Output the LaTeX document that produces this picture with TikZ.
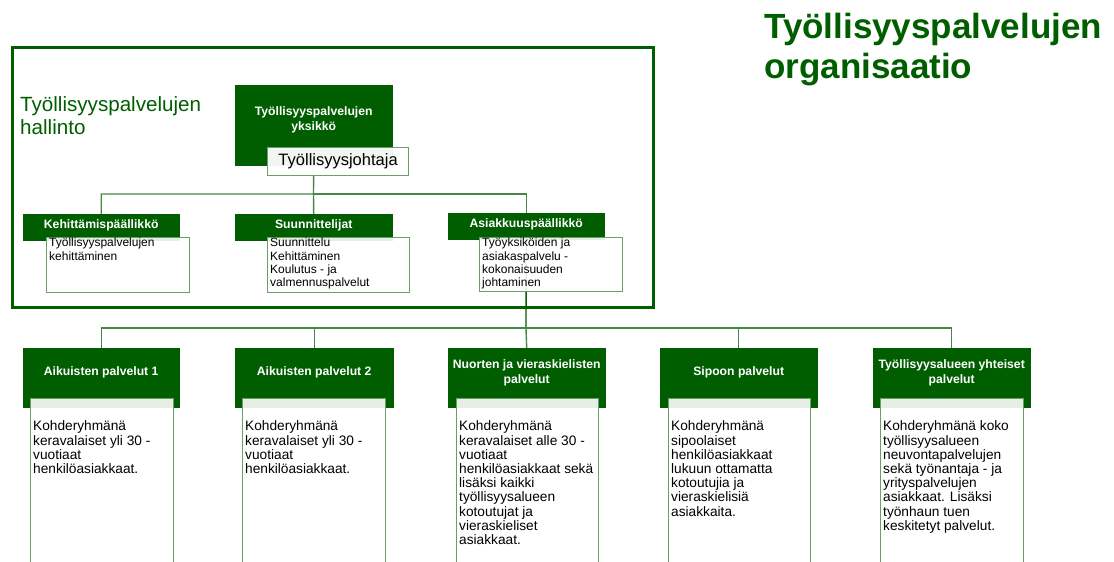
\documentclass[tikz,border=0pt]{standalone}
\usepackage{fontspec}
\setmainfont{Liberation Sans}
\usetikzlibrary{positioning}
\usetikzlibrary{backgrounds}

\definecolor{orggreen}{RGB}{0,94,0}
\definecolor{linegreen}{RGB}{70,135,70}
\definecolor{boxgreen}{RGB}{105,160,105}

\begin{document}
\begin{tikzpicture}[x=1pt,y=-1pt]
			\tikzset{head/.style = {fill=orggreen, draw=orggreen, anchor=north west, 
					inner sep = 0pt}}
			\tikzset{headtxt/.style = {text=white, align=center, inner sep=0pt, 
					font=\bfseries\fontsize{12.2}{14.8}\selectfont}}
			\tikzset{sub/.style = {draw=boxgreen, line width=1.2pt, fill=white, 
					fill opacity=0.9, anchor=north west, inner sep = 0pt}}
			\tikzset{subtxt/.style = {anchor=north west, align=left, inner sep=0pt, 
					text opacity=1, font=\fontsize{12}{13.3}\selectfont}}
			\tikzset{lowtxt/.style = {subtxt, font=\fontsize{13.7}{14.2}\selectfont}}
			\tikzset{edge/.style = {draw=linegreen, line width=1.4pt}}
			
			\clip (0,0) rectangle (1114,562);
			
			% titles
			\node[anchor=north west, align=left, inner sep=0pt, text=orggreen,
			font=\bfseries\fontsize{35}{40}\selectfont] (title) at (764,13)
			{Työllisyyspalvelujen\\organisaatio};
			\draw[orggreen, line width=3pt] (12,47) rectangle (653,307);
			\node[anchor=north west, align=left, inner sep=0pt, text=orggreen,
			font=\fontsize{20.6}{23}\selectfont] (hallinto) at (20,96)
			{Työllisyyspalvelujen\\hallinto};
			
			% administration
			\node[head, minimum width=157, minimum height=80,
			label={[headtxt, yshift=5pt]center:{Työllisyyspalvelujen\\yksikkö}}] 
			(unit) at (235,85) {};
			\node[sub, fill opacity=0.95, minimum width=141, minimum height=28, 
			text opacity=1, font=\fontsize{16.5}{18}\selectfont] (johtaja) at (267,147) 
			{Työllisyysjohtaja};
			
			\node[head, minimum width=156, minimum height=26,
			label={[headtxt, yshift=2pt]center:Kehittämispäällikkö}] (kh) at (23,214) {};
			\node[head, minimum width=157, minimum height=26,
			label={[headtxt, yshift=2pt]center:Suunnittelijat}] (sh) at (235,214) {};
			\node[head, minimum width=156, minimum height=26,
			label={[headtxt, yshift=2pt]center:Asiakkuuspäällikkö}] (ah) at (448,213) {};
			
			\node[sub, minimum width=143, minimum height=55,
			label={[subtxt, xshift=3pt, yshift=-1pt]north west:{Työllisyyspalvelujen\\kehittäminen}}] 
			(ks) at (46,237) {};
			\node[sub, minimum width=142, minimum height=55,
			label={[subtxt, xshift=3pt, yshift=-1pt]north west:{Suunnittelu\\Kehittäminen\\Koulutus - ja\\valmennuspalvelut}}] 
			(ss) at (267,237) {};
			\node[sub, minimum width=143, minimum height=54,
			label={[subtxt, xshift=3pt, yshift=-1pt]north west:{Työyksiköiden ja\\asiakaspalvelu -\\kokonaisuuden\\johtaminen}}] 
			(as) at (479,237) {};
			
			% services
			\node[head, minimum width=156, minimum height=59,
			label={[headtxt, yshift=5pt]center:Aikuisten palvelut 1}] (l1) at (23,348) {};
			\node[head, minimum width=158, minimum height=59,
			label={[headtxt, yshift=5pt]center:Aikuisten palvelut 2}] (l2) at (235,348) {};
			\node[head, minimum width=157, minimum height=59,
			label={[headtxt, yshift=5pt]center:{Nuorten ja vieraskielisten\\palvelut}}] (l3) at (448,348) {};
			\node[head, minimum width=157, minimum height=59,
			label={[headtxt, yshift=5pt]center:Sipoon palvelut}] (l4) at (660,348) {};
			\node[head, minimum width=157, minimum height=59,
			label={[headtxt, yshift=5pt]center:{Työllisyysalueen yhteiset\\palvelut}}] (l5) at (873,348) {};
			
			\node[sub, minimum width=143, minimum height=180,
			label={[lowtxt, xshift=3pt, yshift=-22.7pt]north west:{Kohderyhmänä\\keravalaiset yli 30 -\\vuotiaat\\henkilöasiakkaat.}}] 
			(s1) at (30,398) {};
			\node[sub, minimum width=143, minimum height=180,
			label={[lowtxt, xshift=3pt, yshift=-22.7pt]north west:{Kohderyhmänä\\keravalaiset yli 30 -\\vuotiaat\\henkilöasiakkaat.}}] 
			(s2) at (242,398) {};
			\node[sub, minimum width=142, minimum height=180,
			label={[lowtxt, xshift=3pt, yshift=-22.7pt]north west:{Kohderyhmänä\\keravalaiset alle 30 -\\vuotiaat\\henkilöasiakkaat sekä\\lisäksi kaikki\\työllisyysalueen\\kotoutujat ja\\vieraskieliset\\asiakkaat.}}] 
			(s3) at (456,398) {};
			\node[sub, minimum width=142, minimum height=180,
			label={[lowtxt, xshift=3pt, yshift=-22.7pt]north west:{Kohderyhmänä\\sipoolaiset\\henkilöasiakkaat\\lukuun ottamatta\\kotoutujia ja\\vieraskielisiä\\asiakkaita.}}] 
			(s4) at (668,398) {};
			\node[sub, minimum width=143, minimum height=180,
			label={[lowtxt, xshift=3pt, yshift=-22.7pt]north west:{Kohderyhmänä koko\\työllisyysalueen\\neuvontapalvelujen\\sekä työnantaja - ja\\yrityspalvelujen\\asiakkaat. Lisäksi\\työnhaun tuen\\keskitetyt palvelut.}}] 
			(s5) at (880,398) {};
			
			%edges
			\coordinate (bus1) at (313.5,194);
			\coordinate (bus2) at (526,328);
			\begin{scope}[on background layer]
			\draw[edge] (unit.south) -- (bus1) -| (kh.north);
			\draw[edge] (bus1) -- (sh.north);
			\draw[edge] (bus1) -| (ah.north);
			\draw[edge, draw=orggreen] (ah.south) -- (bus2);
			\draw[edge] (bus2) -| (l1.north);
			\draw[edge] (bus2) -| (l2.north);
			\draw[edge] (bus2) -- (l3.north);
			\draw[edge] (bus2) -| (l4.north);
			\draw[edge] (bus2) -| (l5.north);
			\end{scope}
			
\end{tikzpicture}
\end{document}
